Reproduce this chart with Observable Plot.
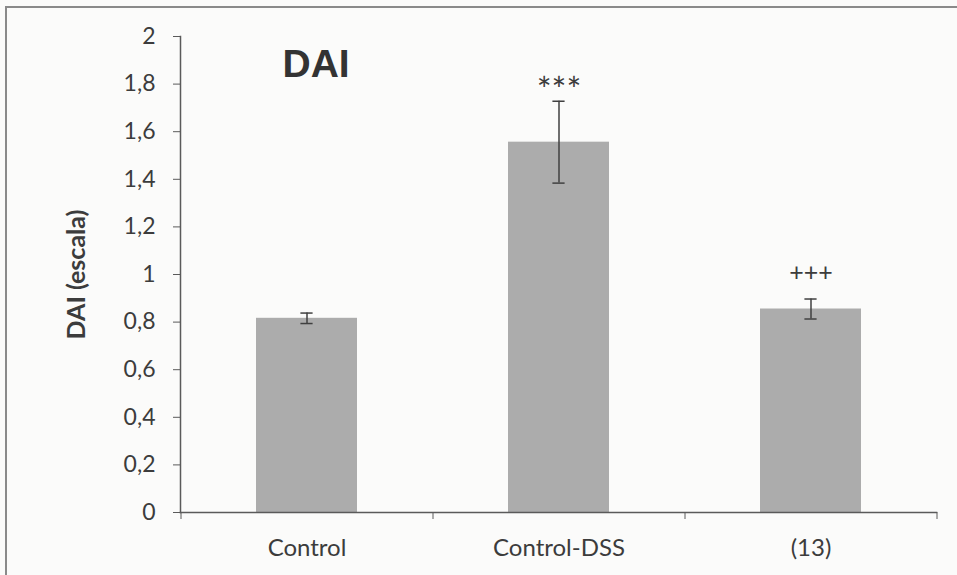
<!DOCTYPE html>
<html>
<head>
<meta charset="utf-8">
<script src="https://cdn.jsdelivr.net/npm/d3@7"></script>
<script src="https://cdn.jsdelivr.net/npm/@observablehq/plot@0.6"></script>
<style>
  html, body { margin: 0; padding: 0; background: #fbfbfa; }
  #wrap { position: relative; width: 957px; height: 575px; overflow: hidden; }
  #frame { position: absolute; left: 5px; top: 6px; width: 1000px; height: 600px;
           border-top: 2px solid #8a8a8a; border-left: 2px solid #8a8a8a; }
  #chart { position: absolute; left: 0; top: 0; }
</style>
</head>
<body>
<div id="wrap"><div id="frame"></div><div id="chart"></div></div>
<script>
const categories = ["Control", "Control-DSS", "(13)"];
const means = [0.816, 1.556, 0.855];
const errors = [0.022, 0.172, 0.042];
const marks = ["", "***", "+++"];
const yTicks = [0, 0.2, 0.4, 0.6, 0.8, 1, 1.2, 1.4, 1.6, 1.8, 2];
const title = "DAI";
const yLabel = "DAI (escala)";

const data = categories.map((c, i) => ({
  cat: c, v: means[i], lo: means[i] - errors[i], hi: means[i] + errors[i], mark: marks[i]
}));

const W = 957, H = 575, mL = 180, mR = 21, mT = 36, mB = 63;
const step = (W - mL - mR) / categories.length;
const band = step * 0.4;
const textColor = "#3c3c3c";
const axisColor = "#5a5a5a";
const font = "Lato, 'Open Sans', sans-serif";

const fmt = d => String(d).replace(".", ",");

const chart = Plot.plot({
  width: W, height: H,
  marginLeft: mL, marginRight: mR, marginTop: mT, marginBottom: mB,
  style: { background: "transparent", fontFamily: font, color: textColor },
  x: { domain: categories, paddingInner: 0.6, paddingOuter: 0.3, label: null },
  y: { domain: [0, 2], label: null },
  marks: [
    Plot.barY(data, { x: "cat", y: "v", fill: "#acacac" }),
    Plot.ruleX(data, { x: "cat", y1: "lo", y2: "hi", stroke: "#404040", strokeWidth: 1.5 }),
    Plot.tickY(data, { x: "cat", y: "lo", stroke: "#404040", strokeWidth: 1.5, insetLeft: (band - 12) / 2, insetRight: (band - 12) / 2 }),
    Plot.tickY(data, { x: "cat", y: "hi", stroke: "#404040", strokeWidth: 1.5, insetLeft: (band - 12) / 2, insetRight: (band - 12) / 2 }),
    Plot.text(data.filter(d => d.mark.includes("*")), { x: "cat", y: "hi", text: "mark", dy: 1, lineAnchor: "bottom", fontSize: 35, fill: textColor, fontFamily: font }),
    Plot.text(data.filter(d => d.mark.includes("+")), { x: "cat", y: "hi", text: "mark", dy: -18, lineAnchor: "bottom", fontSize: 25, fill: textColor, fontFamily: font }),
    Plot.axisY({ ticks: yTicks, tickFormat: fmt, tickSize: 7, tickPadding: 18, fontSize: 23, stroke: axisColor, color: textColor, label: null }),
    Plot.frame({ anchor: "left", stroke: axisColor, strokeWidth: 1.5 }),
    Plot.frame({ anchor: "bottom", stroke: axisColor, strokeWidth: 1.5 }),
    Plot.axisX({ tickSize: 0, tickPadding: 26, fontSize: 24, color: textColor, label: null }),
    Plot.axisX({ text: null, tickSize: 7, dx: -step / 2, stroke: axisColor }),
    Plot.axisX({ ticks: [categories[categories.length - 1]], text: null, tickSize: 7, dx: step / 2, stroke: axisColor }),
    Plot.text([title], { frameAnchor: "top-left", dx: 102, dy: 13, text: d => d, fontSize: 39, fontWeight: "bold", fontFamily: "'Liberation Sans', Arial, sans-serif", fill: "#333333", textAnchor: "start", lineAnchor: "top" }),
    Plot.text([yLabel], { frameAnchor: "left", dx: -104, text: d => d, rotate: -90, textAnchor: "middle", lineAnchor: "middle", fontSize: 25, fontWeight: "bold", fill: textColor, fontFamily: font })
  ]
});
document.getElementById("chart").append(chart);
</script>
</body>
</html>
